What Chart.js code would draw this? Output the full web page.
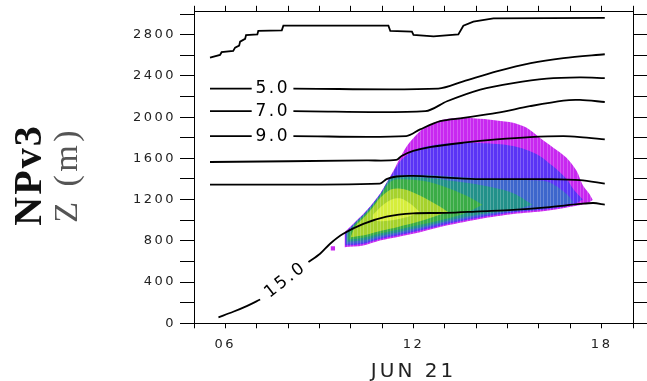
<!DOCTYPE html>
<html><head><meta charset="UTF-8">
<script src="https://cdn.jsdelivr.net/npm/chart.js@4.4.7/dist/chart.umd.min.js"></script>
<style>
*{margin:0;padding:0}
html,body{width:647px;height:381px;background:#fff;overflow:hidden}
canvas{display:block}
</style></head><body>
<canvas id="c" width="647" height="381"></canvas>
<script>
// time axis = hours of JUN 21, height axis = Z (m)
const xTickValues = [5,6,7,8,9,10,11,12,13,14,15,16,17,18,19];
const xTickText   = ['','06','','','','','','12','','','','','','18',''];
const yTickValues = [0,200,400,600,800,1000,1200,1400,1600,1800,2000,2200,2400,2600,2800,3000];
const yTickText   = ['0','','400','','800','','1200','','1600','','2000','','2400','','2800',''];

// contour lines [hour, metres], null = gap for the label
const lineTop = [[5.51,2578],[5.83,2604],[5.88,2630],[6.25,2643],[6.31,2675],[6.44,2694],[6.47,2733],[6.63,2759],[6.66,2797],[7.02,2803],[7.05,2836],[7.8,2842],[7.85,2887],[11.2,2887],[11.26,2836],[11.95,2829],[12.0,2797],[12.64,2784],[13.43,2803],[13.59,2887],[13.91,2926],[14.55,2958],[18.1,2964]];
const line5  = [[5.51,2277],[6.84,2277],[7.5,null],[8.17,2277],[12.79,2277],[13.59,2347],[14.65,2443],[15.74,2524],[16.78,2572],[18.1,2610]];
const line7  = [[5.51,2058],[6.84,2058],[7.5,null],[8.17,2058],[12.38,2058],[13.07,2154],[14.13,2267],[15.18,2331],[16.25,2373],[17.3,2385],[18.1,2379]];
const line9  = [[5.51,1816],[6.84,1816],[7.5,null],[8.17,1816],[11.77,1816],[12.21,1881],[12.85,1961],[13.59,1993],[14.65,2041],[15.71,2106],[16.78,2161],[17.31,2167],[18.1,2147]];
const line11 = [[5.51,1565],[10.5,1580],[11.45,1585],[11.62,1623],[11.99,1672],[12.52,1710],[13.59,1752],[14.65,1784],[15.71,1807],[16.78,1816],[17.31,1807],[18.1,1784]];
const line13 = [[5.51,1345],[10.93,1356],[11.14,1399],[11.46,1424],[11.99,1430],[13.05,1414],[14.12,1399],[15.18,1399],[16.25,1399],[17.31,1389],[18.1,1356]];
const line15 = [[5.78,58],[6.25,112],[6.68,167],[7.11,231],[7.9,null],[8.65,594],[9.02,675],[9.34,772],[9.76,868],[10.4,965],[11.14,1035],[11.99,1067],[13.05,1071],[14.12,1086],[15.18,1100],[16.25,1125],[17.31,1158],[17.74,1167],[18.1,1151]];

const labelText  = ['5.0','7.0','9.0','15.0'];
const labelX     = [7.47,7.47,7.47,7.89];
const labelY     = [2277,2058,1816,413];
const labelAngle = [0,0,0,-38];

// shaded field, outer level first: upper and lower edge of each level
const lvl1Top = [[9.8,884],[10.13,980],[10.45,1077],[10.72,1173],[10.95,1265],[11.36,1479],[11.52,1575],[11.79,1720],[12.11,1833],[12.43,1913],[12.96,1977],[13.59,1993],[14.65,1968],[15.18,1945],[15.61,1896],[16.03,1800],[16.46,1704],[16.88,1607],[17.2,1479],[17.4,1340],[17.6,1260],[17.72,1195]];
const lvl1Bot = [[9.8,739],[10.4,755],[10.93,803],[11.46,835],[12.21,884],[13.05,948],[14.12,1013],[15.18,1061],[16.25,1093],[17.2,1141],[17.55,1165],[17.72,1195]];
const lvl2Top = [[9.82,880],[10.13,976],[10.45,1073],[10.72,1169],[10.95,1261],[11.36,1470],[11.6,1580],[12.11,1690],[13.06,1745],[14.12,1750],[15.18,1720],[15.93,1640],[16.46,1520],[16.88,1400],[17.1,1300],[17.4,1200]];
const lvl2Bot = [[9.82,755],[10.4,770],[10.93,818],[11.46,850],[12.21,900],[13.05,962],[14.12,1027],[15.18,1075],[16.25,1106],[17.1,1150],[17.4,1200]];
const lvl3Top = [[9.85,875],[10.13,970],[10.45,1067],[10.72,1163],[10.95,1255],[11.3,1420],[11.8,1440],[12.5,1440],[13.5,1420],[14.5,1400],[15.5,1390],[16.3,1370],[16.9,1250],[17.1,1170]];
const lvl3Bot = [[9.85,770],[10.4,785],[10.93,833],[11.46,865],[12.21,915],[13.05,977],[14.12,1042],[15.18,1088],[16.25,1118],[17.1,1170]];
const lvl4Top = [[9.88,870],[10.13,965],[10.45,1062],[10.72,1158],[10.95,1250],[11.3,1410],[11.8,1420],[12.5,1410],[13.5,1370],[14.5,1320],[15.2,1260],[15.8,1150]];
const lvl4Bot = [[9.88,790],[10.4,805],[10.93,850],[11.46,882],[12.21,932],[13.05,993],[14.12,1058],[15.18,1100],[15.8,1150]];
const lvl5Top = [[9.92,865],[10.13,955],[10.45,1052],[10.72,1148],[10.95,1240],[11.3,1380],[11.8,1395],[12.5,1370],[13.2,1300],[13.8,1220],[14.2,1150]];
const lvl5Bot = [[9.92,810],[10.4,830],[10.93,870],[11.46,905],[12.21,955],[13.05,1015],[13.6,1060],[14.2,1150]];
const lvl6Top = [[10.0,840],[10.13,935],[10.45,1035],[10.72,1130],[10.95,1220],[11.3,1300],[11.7,1300],[12.2,1240],[12.8,1140],[13.1,1080]];
const lvl6Bot = [[10.0,835],[10.5,860],[11.0,900],[11.5,935],[12.2,990],[13.1,1080]];
const lvl7Top = [[10.7,1050],[11.0,1140],[11.3,1200],[11.6,1210],[11.9,1160],[12.2,1080]];
const lvl7Bot = [[10.7,1000],[11.0,990],[11.5,1010],[11.9,1040],[12.2,1080]];
const stray = [[9.43,727]];

const levelColors = ['#c828f0','#5a34f5','#3d66cc','#22918a','#3aac46','#a6d22c','#d6ee3c'];
const levelTops = [lvl1Top,lvl2Top,lvl3Top,lvl4Top,lvl5Top,lvl6Top,lvl7Top];
const levelBots = [lvl1Bot,lvl2Bot,lvl3Bot,lvl4Bot,lvl5Bot,lvl6Bot,lvl7Bot];

function pts(a){ return a.map(function(p){ return {x:p[0], y:p[1]}; }); }

// cell texture: faint light column seams like the gridded original
function cells(color){
  var cv = document.createElement('canvas');
  cv.width = 10; cv.height = 6;
  var g = cv.getContext('2d');
  g.fillStyle = color; g.fillRect(0,0,10,6);
  g.fillStyle = 'rgba(255,255,255,0.22)';
  g.fillRect(0,0,1,6); g.fillRect(3,0,1,6); g.fillRect(7,0,1,6);
  return g.createPattern(cv,'repeat');
}

var ds = [];
[lineTop,line5,line7,line9,line11,line13,line15].forEach(function(l,i){
  ds.push({data:pts(l), borderColor:'#000', borderWidth:1.8, pointRadius:0, fill:false,
    tension: i===0 ? 0 : 0.3, spanGaps:false, order:0});
});
ds.push({data:pts(stray), showLine:false, pointStyle:'rect', pointRadius:3, backgroundColor:levelColors[0], borderWidth:0, order:1});
levelTops.forEach(function(top,i){
  ds.push({data:pts(top), fill:'+1', backgroundColor:cells(levelColors[i]), borderColor:'transparent', borderWidth:0, pointRadius:0, tension:0.3, order:20-i});
  ds.push({data:pts(levelBots[i]), fill:false, borderColor:'transparent', borderWidth:0, pointRadius:0, tension:0.3, order:20-i});
});

const textPlugin = {
  id:'texts',
  beforeDraw: function(chart){ chart.ctx.letterSpacing = '2.5px'; },
  afterDatasetsDraw: function(chart){
    var ctx = chart.ctx, xs = chart.scales.x, ys = chart.scales.y;
    ctx.save();
    ctx.font = '17px "DejaVu Sans"';
    ctx.letterSpacing = '2.5px';
    ctx.fillStyle = '#000';
    ctx.textAlign = 'center';
    ctx.textBaseline = 'middle';
    labelText.forEach(function(t,i){
      ctx.save();
      ctx.translate(xs.getPixelForValue(labelX[i]), ys.getPixelForValue(labelY[i]));
      ctx.rotate(labelAngle[i]*Math.PI/180);
      ctx.fillText(t, 1.25, 0);
      ctx.restore();
    });
    ctx.restore();
  },
  afterDraw: function(chart){
    var ctx = chart.ctx;
    ctx.save();
    ctx.fillStyle = '#222';
    ctx.font = '20px "DejaVu Sans"';
    ctx.letterSpacing = '3px';
    ctx.textAlign = 'center';
    ctx.textBaseline = 'alphabetic';
    ctx.fillText('JUN 21', 413.5, 376.5);
    ctx.restore();

    ctx.save();
    ctx.translate(40.7, 176);
    ctx.rotate(-Math.PI/2);
    ctx.fillStyle = '#111';
    ctx.font = 'bold 40px "Liberation Serif"';
    ctx.letterSpacing = '2px';
    ctx.textAlign = 'center';
    ctx.fillText('NPv3', 1, 0);
    ctx.restore();

    ctx.save();
    ctx.translate(76.7, 176.5);
    ctx.rotate(-Math.PI/2);
    ctx.fillStyle = '#555';
    ctx.font = '34px "Liberation Serif"';
    ctx.letterSpacing = '3.5px';
    ctx.textAlign = 'center';
    ctx.fillText('Z (m)', 1.7, 0);
    ctx.restore();
  }
};

function xTicks(s){ s.ticks = xTickValues.map(function(v){ return {value:v}; }); }
function yTicks(s){ s.ticks = yTickValues.map(function(v){ return {value:v}; }); }
var axisGrid = function(len){ return {drawOnChartArea:false, drawTicks:true, tickLength:len, color:'#000', lineWidth:1}; };
var tickFont = {family:'DejaVu Sans', size:13};

new Chart(document.getElementById('c'), {
  type:'line',
  data:{datasets:ds},
  options:{
    responsive:false, animation:false, devicePixelRatio:1,
    layout:{padding:0},
    plugins:{legend:{display:false}, tooltip:{enabled:false}, filler:{propagate:false}},
    scales:{
      x:{type:'linear', position:'bottom', min:5, max:19, afterBuildTicks:xTicks,
        afterFit:function(s){ s.height = 57.7; },
        ticks:{autoSkip:false, maxRotation:0, color:'#222', font:tickFont, padding:9,
          callback:function(v){ var i = xTickValues.indexOf(v); return i < 0 ? '' : xTickText[i]; }},
        grid:axisGrid(5), border:{color:'#000', width:1}},
      x2:{type:'linear', position:'top', min:5, max:19, afterBuildTicks:xTicks,
        afterFit:function(s){ s.height = 10; },
        ticks:{display:false}, grid:axisGrid(6), border:{color:'#000', width:1}},
      y:{type:'linear', position:'left', min:0, max:3022, afterBuildTicks:yTicks,
        afterFit:function(s){ s.width = 194; },
        ticks:{autoSkip:false, color:'#222', font:tickFont, padding:4,
          callback:function(v){ var i = yTickValues.indexOf(v); return i < 0 ? '' : yTickText[i]; }},
        grid:axisGrid(14), border:{color:'#000', width:1}},
      y2:{type:'linear', position:'right', min:0, max:3022, afterBuildTicks:yTicks,
        afterFit:function(s){ s.width = 14; },
        ticks:{display:false}, grid:axisGrid(14), border:{color:'#000', width:1}}
    }
  },
  plugins:[textPlugin]
});
</script></body></html>
